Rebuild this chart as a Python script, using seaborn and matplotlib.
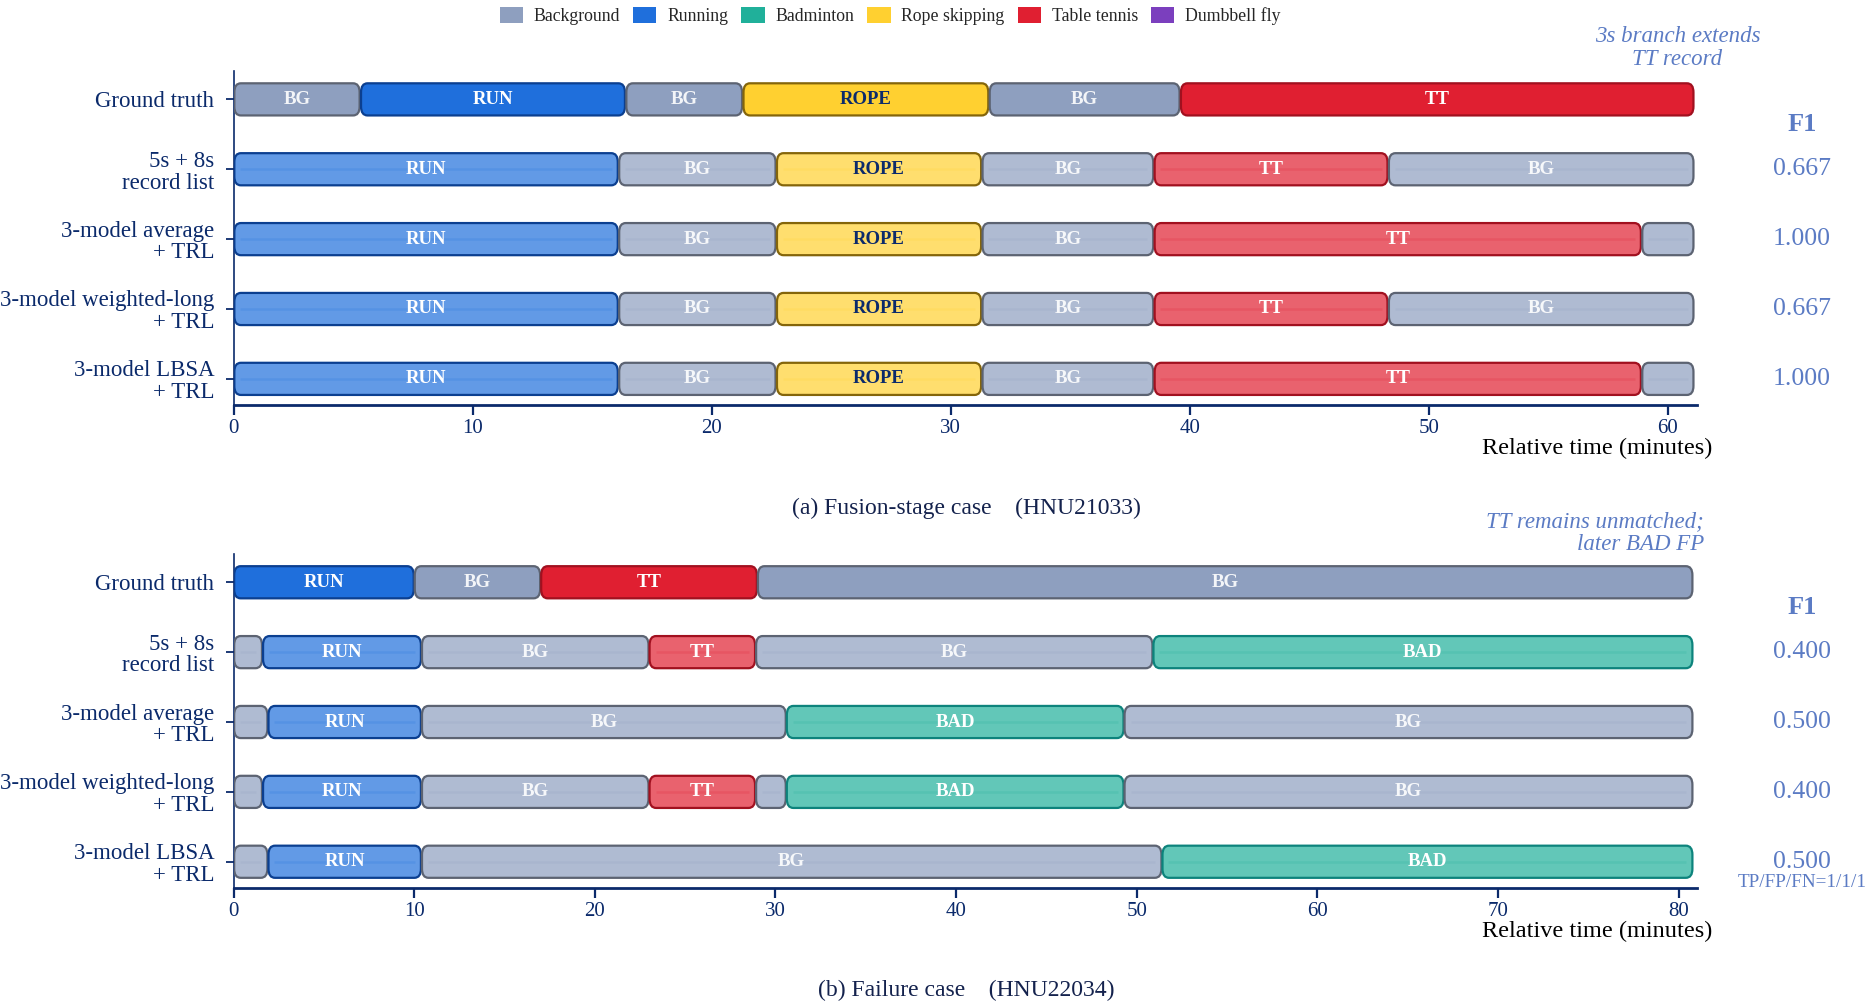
import matplotlib
matplotlib.use("Agg")
import matplotlib.pyplot as plt
from matplotlib.patches import FancyBboxPatch, Patch
import seaborn as sns

# --- data ---
ROWS = ["Ground truth", "5s + 8s\nrecord list", "3-model average\n+ TRL",
        "3-model weighted-long\n+ TRL", "3-model LBSA\n+ TRL"]

CLASS_NAMES = ["Background", "Running", "Badminton", "Rope skipping", "Table tennis", "Dumbbell fly"]
CLASS_CODES = ["BG", "RUN", "BAD", "ROPE", "TT", "DBF"]
CLASS_COLORS = ["#8e9fbf", "#1f6fdc", "#20b09a", "#ffd030", "#e01f31", "#7b3fbe"]
EDGE_COLORS = ["#5c6372", "#0b3f90", "#0d837c", "#84650a", "#a1101f", "#4a2380"]

# (a) HNU21033
A_LABELS = [
    ["BG", "RUN", "BG", "ROPE", "BG", "TT"],
    ["RUN", "BG", "ROPE", "BG", "TT", "BG"],
    ["RUN", "BG", "ROPE", "BG", "TT", "BG"],
    ["RUN", "BG", "ROPE", "BG", "TT", "BG"],
    ["RUN", "BG", "ROPE", "BG", "TT", "BG"],
]
A_EDGES = [
    [0, 5.3, 16.4, 21.3, 31.6, 39.6, 61.1],
    [0, 16.1, 22.7, 31.3, 38.5, 48.3, 61.1],
    [0, 16.1, 22.7, 31.3, 38.5, 58.9, 61.1],
    [0, 16.1, 22.7, 31.3, 38.5, 48.3, 61.1],
    [0, 16.1, 22.7, 31.3, 38.5, 58.9, 61.1],
]
A_F1 = [0.667, 1.000, 0.667, 1.000]

# (b) HNU22034
B_LABELS = [
    ["RUN", "BG", "TT", "BG"],
    ["BG", "RUN", "BG", "TT", "BG", "BAD"],
    ["BG", "RUN", "BG", "BAD", "BG"],
    ["BG", "RUN", "BG", "TT", "BG", "BAD", "BG"],
    ["BG", "RUN", "BG", "BAD"],
]
B_EDGES = [
    [0, 10.0, 17.0, 29.0, 80.8],
    [0, 1.6, 10.4, 23.0, 28.9, 50.9, 80.8],
    [0, 1.9, 10.4, 30.6, 49.3, 80.8],
    [0, 1.6, 10.4, 23.0, 28.9, 30.6, 49.3, 80.8],
    [0, 1.9, 10.4, 51.4, 80.8],
]
B_F1 = [0.400, 0.500, 0.400, 0.500]

NAVY = "#0b2a6b"
F1_BLUE = "#5b7bc4"

sns.set_theme(style="white")
plt.rcParams['font.family'] = ['Liberation Serif', 'DejaVu Serif']

W, H = 18.66, 10.06
fig = plt.figure(figsize=(W, H), dpi=100)
ax_a = fig.add_axes([0.1252, 0.597, 0.784, 0.332])
ax_b = fig.add_axes([0.1252, 0.117, 0.784, 0.332])

BAR_H = 0.46
RX_PX, RY_PX = 6.5, 9.0


def draw_panel(ax, labels, edges, xmax, xticks):
    ax.set_xlim(0, xmax)
    ax.set_ylim(len(ROWS) - 1 + 0.38, -0.4)
    pos = ax.get_position()
    px_x = pos.width * W * 100 / xmax
    px_y = pos.height * H * 100 / (len(ROWS) - 1 + 0.78)
    rx = RX_PX / px_x
    asp = (RY_PX / px_y) / rx
    for r, (labs, edg) in enumerate(zip(labels, edges)):
        gt = (r == 0)
        for lab, x0, x1 in zip(labs, edg[:-1], edg[1:]):
            i = CLASS_CODES.index(lab)
            w = x1 - x0 - 0.06
            rr = min(rx, w / 2, BAR_H / asp / 2)
            face = CLASS_COLORS[i] if gt else matplotlib.colors.to_rgba(CLASS_COLORS[i], 0.7)
            p = FancyBboxPatch((x0 + 0.03, r - BAR_H / 2), w, BAR_H,
                               boxstyle=f"round,pad=0,rounding_size={rr}",
                               mutation_aspect=asp, facecolor=face,
                               edgecolor=EDGE_COLORS[i], linewidth=1.6, zorder=3)
            ax.add_patch(p)
            if not gt:
                ax.plot([x0 + rr, x1 - rr], [r, r], color=CLASS_COLORS[i],
                        alpha=0.18, lw=1.8, zorder=4, solid_capstyle='butt')
            if x1 - x0 >= 3:
                tc = NAVY if lab == "ROPE" else "white"
                ax.text((x0 + x1) / 2, r, lab, ha='center', va='center',
                        fontsize=13.5, fontweight='bold', color=tc,
                        alpha=1.0 if lab != "BG" else 0.9, zorder=5)
    ax.set_yticks(range(len(ROWS)))
    ax.set_yticklabels(ROWS, fontsize=16.5, color=NAVY, linespacing=1.05)
    ax.set_xticks(xticks)
    ax.set_xticklabels([str(t) for t in xticks], fontsize=15, color=NAVY)
    ax.tick_params(axis='y', length=6, width=1.3, color=NAVY, pad=8, left=True)
    ax.tick_params(axis='x', length=7, width=1.6, color=NAVY, pad=3, bottom=True)
    sns.despine(ax=ax, top=True, right=True)
    ax.spines['left'].set_color(NAVY)
    ax.spines['left'].set_linewidth(1.2)
    ax.spines['bottom'].set_color(NAVY)
    ax.spines['bottom'].set_linewidth(2.0)
    ax.text(1.0106, -0.13, "Relative time (minutes)", transform=ax.transAxes,
            ha='right', va='center', fontsize=17.5, color='black')


def draw_f1(ax, f1):
    tr = ax.get_yaxis_transform()
    ax.text(1.072, 0.36, "F1", transform=tr, ha='center', va='center',
            fontsize=19, fontweight='bold', color=F1_BLUE)
    for r, v in enumerate(f1, start=1):
        ax.text(1.072, r, f"{v:.3f}", transform=tr, ha='center', va='center',
                fontsize=18.5, color=F1_BLUE)


draw_panel(ax_a, A_LABELS, A_EDGES, 61.2, [0, 10, 20, 30, 40, 50, 60])
draw_panel(ax_b, B_LABELS, B_EDGES, 81.0, [0, 10, 20, 30, 40, 50, 60, 70, 80])
draw_f1(ax_a, A_F1)
draw_f1(ax_b, B_F1)

ax_b.text(1.072, 4.29, "TP/FP/FN=1/1/1", transform=ax_b.get_yaxis_transform(),
          ha='center', va='center', fontsize=13.8, color=F1_BLUE)

ax_a.text(0.987, -0.74, "3s branch extends\nTT record", transform=ax_a.get_yaxis_transform(),
          ha='center', va='center', fontsize=16.5, style='italic', color=F1_BLUE,
          linespacing=1.12)
ax_b.text(1.005, -0.70, "TT remains unmatched;\nlater BAD FP", transform=ax_b.get_yaxis_transform(),
          ha='right', va='center', fontsize=16.5, style='italic', color=F1_BLUE,
          linespacing=1.12, multialignment='right')

fig.text(0.518, 0.495, "(a) Fusion-stage case    (HNU21033)", ha='center', va='center',
         fontsize=17, color="#14224d")
fig.text(0.518, 0.015, "(b) Failure case    (HNU22034)", ha='center', va='center',
         fontsize=17, color="#14224d")

handles = [Patch(facecolor=c, edgecolor='none', label=n) for n, c in zip(CLASS_NAMES, CLASS_COLORS)]
fig.legend(handles=handles, loc='upper center', bbox_to_anchor=(0.477, 1.009), ncol=6,
           frameon=False, fontsize=12.8, handlelength=1.3, handleheight=1.0,
           columnspacing=0.75, handletextpad=0.6)

fig.savefig("out.png", dpi=100)
